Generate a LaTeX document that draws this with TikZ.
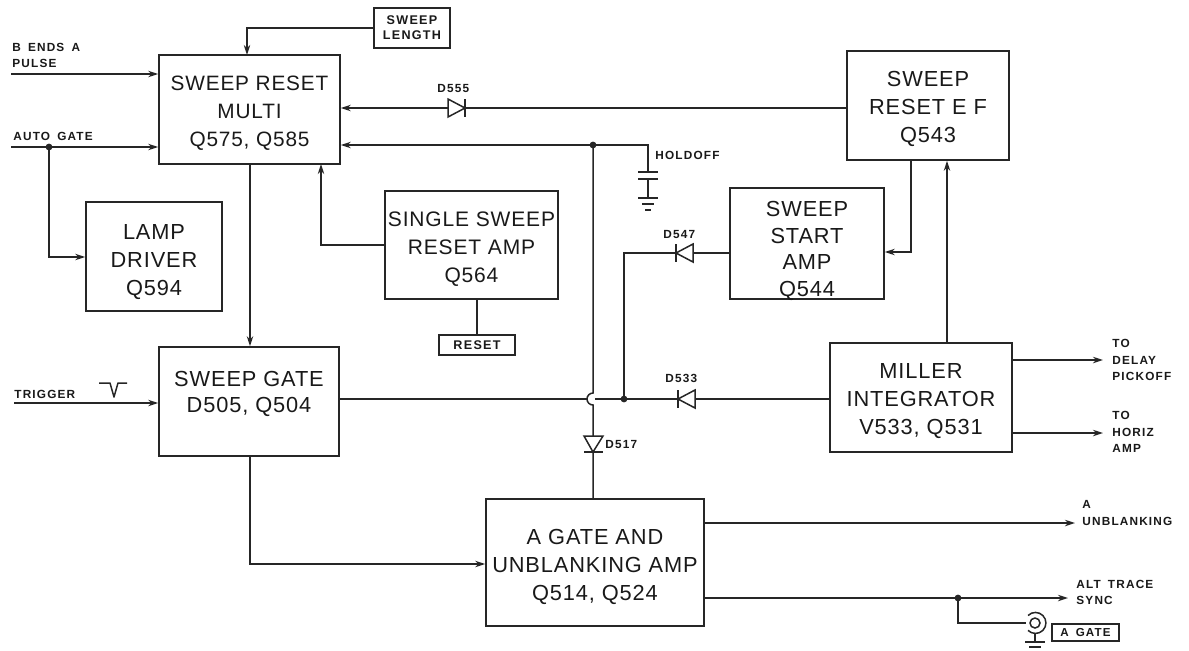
\documentclass[tikz,border=0pt]{standalone}
\usepackage{fontspec}
\setmainfont{Liberation Sans}
\newfontfamily\biglab[LetterSpace=4]{Liberation Sans}
\newfontfamily\smalllab[LetterSpace=10,WordSpace=1.6]{Liberation Sans}
\usetikzlibrary{arrows.meta}
\tikzset{
  x=0.5pt,y=-0.5pt,
  wire/.style={draw=black!85,line width=0.75pt},
  arr/.style={wire,-{Stealth[length=5pt,width=3.2pt]}},
  blk/.style={draw=black!85,line width=0.8pt,inner sep=0pt,align=center,
    font=\biglab\fontsize{10.9}{14}\selectfont,text=black!90},
  tag/.style={draw=black!85,line width=0.8pt,inner sep=0pt,align=center,
    font=\smalllab\bfseries\fontsize{6.3}{7.4}\selectfont,text=black!90},
  lab/.style={inner sep=0pt,anchor=west,align=left,
    font=\smalllab\bfseries\fontsize{5.9}{8.4}\selectfont,text=black!90},
  dotn/.style={circle,fill=black!85,inner sep=0pt,minimum size=3.4pt},
}
\newcommand{\dn}[1]{\rule{0pt}{#1pt}}
\newcommand{\up}[1]{\rule[-#1pt]{0pt}{0pt}}
\newcommand{\diodeleft}[3]{% bar x, base x, y
  \draw[wire,fill=white] (#2,#3-9) -- (#1,#3) -- (#2,#3+9) -- cycle;
  \draw[wire] (#1,#3-9) -- (#1,#3+9);}
\newcommand{\dioderight}[3]{% base x, bar x, y
  \draw[wire,fill=white] (#1,#3-9) -- (#2,#3) -- (#1,#3+9) -- cycle;
  \draw[wire] (#2,#3-9) -- (#2,#3+9);}
\begin{document}
\begin{tikzpicture}
\useasboundingbox (0,0) rectangle (1189,650);
% blocks
\node[blk,minimum width=90.5pt,minimum height=54.5pt,font=\biglab\fontsize{10.4}{14}\selectfont] (srm) at (249.5,109.5) {\dn{11.3}SWEEP RESET\\MULTI\\Q575, Q585};
\node[blk,minimum width=68pt,minimum height=54.5pt] (lamp) at (154,256.5) {\dn{12.8}LAMP\\DRIVER\\Q594};
\node[blk,minimum width=86.5pt,minimum height=54pt,font=\biglab\fontsize{10.5}{14}\selectfont] (ssr) at (471.5,245) {\dn{11.8}SINGLE SWEEP\\RESET AMP\\Q564};
\node[blk,minimum width=90pt,minimum height=54.5pt,font=\biglab\fontsize{10.9}{13}\selectfont] (gate) at (249,401.5) {SWEEP GATE\\D505, Q504\up{10}};
\node[blk,minimum width=81pt,minimum height=54.5pt] (ef) at (928,105.5) {\dn{11.3}SWEEP\\RESET E F\\Q543};
\node[blk,minimum width=77pt,minimum height=55.5pt,font=\biglab\fontsize{10.9}{13.4}\selectfont] (start) at (807,243.5) {\dn{13}SWEEP\\START\\AMP\\\smash{Q544}};
\node[blk,minimum width=91pt,minimum height=54.5pt] (mill) at (921,397.5) {\dn{11.3}MILLER\\INTEGRATOR\\V533, Q531};
\node[blk,minimum width=109pt,minimum height=63.5pt] (agate) at (595,562.5) {\dn{11.8}A GATE AND\\UNBLANKING AMP\\Q514, Q524};
\node[tag,minimum width=38pt,minimum height=20pt] (slen) at (412,28) {SWEEP\\LENGTH};
\node[tag,minimum width=38pt,minimum height=10pt] (reset) at (477,345) {RESET};
\node[tag,minimum width=33.5pt,minimum height=8.5pt,font=\smalllab\bfseries\fontsize{5.8}{7}\selectfont] (agt) at (1085.5,632.5) {A GATE};
% labels
\node[lab] (l1) at (12,55.5) {B ENDS A\\PULSE};
\node[lab] (l2) at (13,136) {AUTO GATE};
\node[lab] (l3) at (14,394) {TRIGGER};
\node[lab] (l4) at (437,88) {D555};
\node[lab] (l5) at (655,155) {HOLDOFF};
\node[lab] (l6) at (663,234) {D547};
\node[lab] (l7) at (665,378) {D533};
\node[lab] (l8) at (605,444) {D517};
\node[lab] (l9) at (1112,360) {TO\\DELAY\\PICKOFF};
\node[lab] (l10) at (1112,432) {TO\\HORIZ\\AMP};
\node[lab] (l11) at (1082,513) {A\\UNBLANKING};
\node[lab] (l12) at (1076,592.5) {ALT TRACE\\SYNC};
% free ends and junctions
\coordinate (c1) at (11,74);
\coordinate (c2) at (11,147);
\coordinate (c3) at (14,403);
\node[dotn] (j1) at (49,147) {};
\node[dotn] (j2) at (593,145) {};
\node[dotn] (j3) at (624,399) {};
\node[dotn] (j4) at (958,598) {};
\coordinate (o1) at (1103,360);
\coordinate (o2) at (1103,433);
\coordinate (o3) at (1075,523);
\coordinate (o4) at (1068,598);
% connectors to SRM
\draw[arr] (c1) -- (srm.west |- c1);
\draw[arr] (c2) -- (srm.west |- c2);
\draw[arr] (j1.center) |- (lamp.west |- 0,257);
\draw[arr] (slen.west) -| (247,55);
\coordinate (d555a) at (465,108);
\draw[arr] (ef.west |- d555a) -- (srm.east |- d555a);
\draw[arr] (648,172) -- (648,145) -- (srm.east |- 0,145);
\draw[arr] (ssr.west) -| (321,164);
\draw[arr] (srm.south -| 250,0) -- (gate.north -| 250,0);
\draw[arr] (c3) -- (gate.west |- c3);
\draw[arr] (gate.south -| 250,0) |- (agate.west |- 0,564);
% reset
\draw[wire] (reset.north |- ssr.south) -- (reset.north);
% holdoff capacitor and ground
\draw[wire] (638,172) -- (658,172);
\draw[wire] (638,179) -- (658,179);
\draw[wire] (648,179) -- (648,198);
\draw[wire] (638,198) -- (658,198);
\draw[wire] (642,204) -- (654,204);
\draw[wire] (645,210) -- (651,210);
% vertical from j2 through hop to D517
\draw[wire] (j2.center) -- (593,393) arc[start angle=-90,end angle=-270,radius=6] -- (593,499);
% horizontal from sweep gate
\draw[wire] (gate.east |- 0,399) -- (587,399);
\draw[wire] (595,399) -- (j3.center);
\draw[wire] (j3.center) -- (mill.west |- j3);
\draw[wire] (j3.center) |- (start.west |- 0,253);
% diodes
\diodeleft{678}{695}{399}
\diodeleft{676}{693}{253}
\dioderight{448}{465}{108}
\draw[wire,fill=white] (584,436) -- (603,436) -- (593,452) -- cycle;
\draw[wire] (584,452) -- (603,452);
% EF / start / Miller
\draw[arr] (ef.south -| 911,0) |- (start.east |- 0,252);
\draw[arr] (mill.north -| 947,0) -- (ef.south -| 947,0);
\draw[arr] (mill.east |- o1) -- (o1);
\draw[arr] (mill.east |- o2) -- (o2);
% A gate outputs
\draw[arr] (agate.east |- o3) -- (o3);
\draw[arr] (agate.east |- o4) -- (o4);
\draw[wire] (j4.center) |- (1026,623);
% connector symbol
\draw[wire] (1035,623) circle[radius=5];
\draw[wire] (1028,615.5) arc[start angle=-135,end angle=135,radius=10.5];
\draw[wire] (1035,633.5) -- (1035,642);
\draw[wire] (1025,642) -- (1045,642);
\draw[wire] (1029,647) -- (1041,647);
% trigger pulse
\draw[wire,line join=round] (99,383) -- (110,383) -- (114,397) -- (118,383) -- (127,383);
\end{tikzpicture}
\end{document}
